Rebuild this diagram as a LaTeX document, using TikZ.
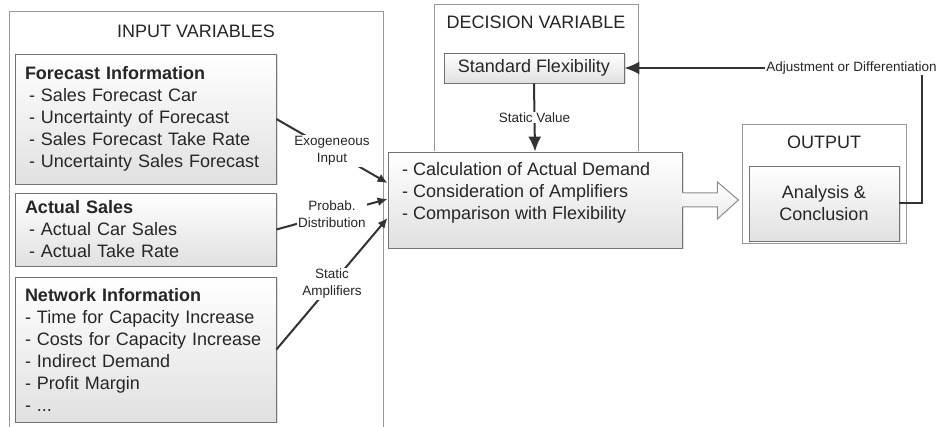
\documentclass[tikz,border=0pt]{standalone}
\usepackage{fontspec}
\setmainfont{Liberation Sans}
\usetikzlibrary{arrows.meta,positioning,shadows}

\begin{document}
\begin{tikzpicture}[x=1pt,y=-1pt,font=\fontsize{18}{22}\selectfont,text=black!85,
  vframe/.style={draw=black!40,line width=1pt,fill=white,inner sep=0pt},
  infobox/.style={draw=black!55,line width=0.8pt,top color=white,bottom color=black!12,drop shadow={opacity=0.25,shadow xshift=1.5pt,shadow yshift=-1.5pt},inner xsep=10pt,inner ysep=3pt,align=left},
  headline/.style={inner sep=3pt},
  lbl/.style={fill=white,inner sep=1pt,align=center,font=\fontsize{13.5}{17}\selectfont},
  conn/.style={line width=2pt,draw=black!80},
  arr/.style={conn,-{Latex[length=10pt,width=9pt]}},
  bigarr/.style={conn,-{Latex[length=15pt,width=13pt]}},
  hollow/.style={draw=black!45,line width=1pt,top color=white,bottom color=black!8}]

\useasboundingbox (0,0) rectangle (940,427);

% Frames
\node[vframe,minimum width=374,minimum height=430] (inframe) at (196,227) {};
\node[headline,below=10pt of inframe.north] (intitle) {INPUT VARIABLES};
\node[vframe,minimum width=204,minimum height=195] (decframe) at (536,102.5) {};
\node[headline,below=8pt of decframe.north] (dectitle) {DECISION VARIABLE};
\node[vframe,minimum width=164,minimum height=119] (outframe) at (824,184.5) {};
\node[headline,below=8pt of outframe.north] (outtitle) {OUTPUT};

% Nodes
\node[infobox,minimum height=130,text width=241] (fcast) at (145.5,119) {\textbf{Forecast Information}\\\hspace*{4pt}- Sales Forecast Car\\\hspace*{4pt}- Uncertainty of Forecast\\\hspace*{4pt}- Sales Forecast Take Rate\\\hspace*{4pt}- Uncertainty Sales Forecast};
\node[infobox,minimum height=73,text width=241] (asales) at (145.5,229.5) {\textbf{Actual Sales}\\\hspace*{4pt}- Actual Car Sales\\\hspace*{4pt}- Actual Take Rate};
\node[infobox,minimum height=145,text width=241] (netinfo) at (145.5,349.5) {\textbf{Network Information}\\- Time for Capacity Increase\\- Costs for Capacity Increase\\- Indirect Demand\\- Profit Margin\\- ...};

\node[infobox,inner xsep=6pt,minimum width=180,minimum height=30,align=center] (stdflex) at (534,68) {Standard Flexibility};
\node[infobox,minimum width=294,minimum height=96] (calc) at (535,200) {};
\node[anchor=west,align=left] (calctxt) at ([xshift=11pt,yshift=7pt]calc.west) {- Calculation of Actual Demand\\- Consideration of Amplifiers\\- Comparison with Flexibility};
\node[infobox,minimum width=150,minimum height=75,align=center] (analysis) at (824,203.5) {Analysis \&\\Conclusion};
\node[lbl] (adjust) at (851.5,68) {Adjustment or Differentiation};

%arcs
\path (fcast.east) edge[arr] node[lbl] {Exogeneous\\Input} ([yshift=17pt]calc.west);
\path (asales.east) edge[arr] node[lbl] {Probab.\\Distribution} ([yshift=1pt]calc.west);
\path (netinfo.east) edge[arr] node[lbl] {Static\\Amplifiers} ([yshift=-18pt]calc.west);
\path (stdflex.south) edge[bigarr] node[lbl] {Static Value} (calc.north);

\draw[hollow] ([yshift=7pt]calc.east) -- ++(35,0) -- ++(0,-11) -- ++(21,18) -- ++(-21,19) -- ++(0,-12) -- ([yshift=-7pt]calc.east);

\draw[conn] (analysis.east) -| ([xshift=70.5pt]adjust.south);
\path (adjust.west) edge[bigarr] (stdflex.east);

\end{tikzpicture}
\end{document}
